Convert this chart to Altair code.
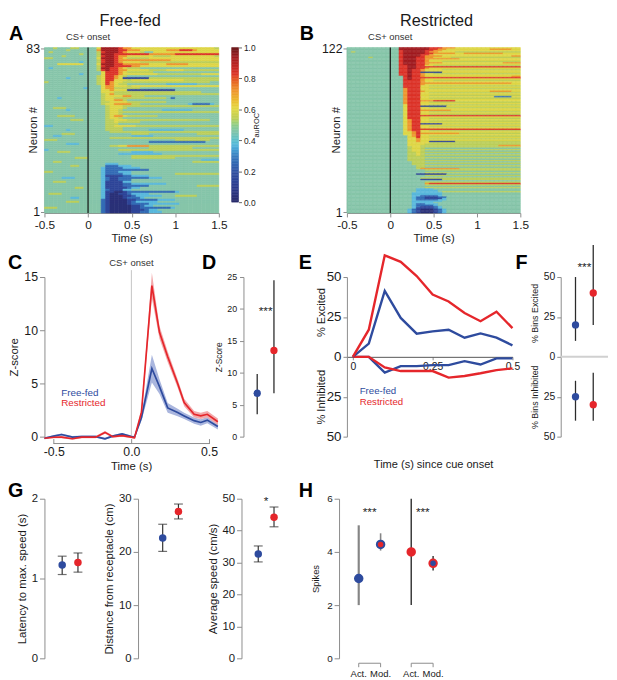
import altair as alt
import pandas as pd

FONT = "Liberation Sans"
BLUE = "#2E4B9E"
RED = "#E5262B"
AX = "#8C8C8C"
INK = "#1A1A1A"
DUMMY = pd.DataFrame({"z": [0]})

# ---------------- heatmaps (A: 83 neurons, B: 122 neurons) ----------------
# one character per 50 ms bin from -0.5 s to 1.5 s, first string = top row (highest neuron #)
N_A = 83
N_B = 122
BIN0 = -0.5
BINW = 0.05
LEVEL_CHARS = list("0123456789")
LEVEL_VALUES = [0.04, 0.15, 0.26, 0.37, 0.46, 0.54, 0.6, 0.72, 0.83, 0.94]

HEAT_STOPS = [0.0, 0.1, 0.2, 0.3, 0.37, 0.46, 0.54, 0.61, 0.72, 0.83, 0.94, 1.0]
HEAT_COLORS = ["#282A6A", "#2B3A8E", "#3152A3", "#3A7DBF", "#5AB8DD", "#86C5AA",
               "#BCCF5A", "#E4D743", "#EE962E", "#DC3328", "#A11C20", "#6B1A1C"]
CB_TICKS = [0, 0.2, 0.4, 0.6, 0.8, 1.0]

HEAT_A = [
    "4454445544" "4469999877" "6666666666" "6666666665",
    "4444454444" "4479999887" "7766666677" "7888766666",
    "4544444444" "4458999876" "6654466666" "6666666666",
    "4444444454" "4459998888" "8888777777" "8888888888",
    "4444544444" "4458998776" "6666655556" "6666666665",
    "5544444444" "4469998765" "5555666666" "6666666666",
    "4444444444" "4458998777" "7777777776" "6666666666",
    "4444444434" "4458998766" "6655555555" "5555555555",
    "4446666664" "4469998877" "7777666677" "7776666666",
    "4444444444" "4458998888" "7766666666" "6666666666",
    "4344444444" "4459988765" "5544444444" "4444444444",
    "4444444444" "4458988776" "6666555566" "6655555555",
    "4444444444" "4446888765" "5555544444" "4444444444",
    "4444444434" "4446888766" "6666665555" "5555556666",
    "4444444444" "4456887654" "4444444444" "4444444444",
    "4444434444" "4456887611" "1111555555" "5555555555",
    "4444444444" "4456886665" "6666666666" "6655555555",
    "5444444444" "4456876655" "5555555555" "5555555544",
    "4444444444" "4456876554" "4444444433" "3333344444",
    "4444444444" "4446776665" "6666666666" "6666666666",
    "4444444443" "4446775555" "5544444444" "4444444444",
    "4444444444" "4446676661" "1111111111" "4444444444",
    "4444444444" "4446665555" "5555555555" "5555554444",
    "4444444444" "4445675555" "5555555555" "5555555555",
    "4444444444" "4445666677" "5554444444" "4444444444",
    "4443444444" "4445665555" "5555555542" "4444444444",
    "4444444444" "4445667754" "4444444444" "4444444444",
    "4444444444" "4445566665" "5555555544" "4444444444",
    "4444444444" "4445667777" "5544444444" "4443222234",
    "4444444444" "4444566655" "5555555555" "5555555555",
    "4455544444" "4444566654" "4444444444" "4444444444",
    "4444434444" "4444566544" "4444444333" "3333444444",
    "4444444444" "4444566555" "5555555555" "5555555555",
    "4444444444" "4444566544" "4444444444" "4444444444",
    "4445555444" "4444567765" "5555554444" "4444444444",
    "4444444444" "4444566544" "4444444444" "4444444444",
    "4444445554" "4444556665" "5555555555" "5555555544",
    "4444444444" "4444556555" "5544444444" "4444444444",
    "4444444444" "4444555444" "4444444444" "4444444444",
    "3344444444" "4444556666" "6555555555" "5555555555",
    "4444444444" "4444555544" "4444444444" "4444444444",
    "4444434444" "4444555544" "4444333333" "3344444444",
    "4444444444" "4444455555" "5555555555" "5555555555",
    "4444555444" "4444444444" "5555444444" "4444455555",
    "4433444444" "4444444444" "3333344444" "4444444444",
    "4444444444" "4444455555" "5555555555" "5555555555",
    "5554444444" "4444444444" "4444444444" "5555555544",
    "4444444444" "4444444444" "4444222222" "2222222444",
    "4444433344" "4444444444" "4444444444" "4444444444",
    "4444444444" "4444455667" "7777555555" "5555555555",
    "4444444444" "4444444444" "4444555555" "5555444444",
    "3444444444" "4444444555" "5555555555" "5555555555",
    "4445554444" "4444444444" "3333344444" "4444444444",
    "4444444444" "4444444333" "3333333444" "4444444444",
    "4444444444" "4444444444" "5555555555" "5555555555",
    "4444444555" "4444444444" "5555555555" "4444444444",
    "4444444444" "4444444444" "4444444444" "4444443333",
    "4455444444" "4444444444" "4444444444" "4444555555",
    "4444444444" "4444333444" "4444444444" "4444444444",
    "4444445544" "4444222333" "4444444444" "4444444444",
    "4444444444" "4443222233" "3344444444" "4444444444",
    "4444444444" "4443222222" "2222444444" "4444444444",
    "5544444444" "4443222333" "4444444444" "4444444444",
    "4444444444" "4443222233" "4444444444" "5555555555",
    "4444444444" "4443111122" "3333444444" "4444444444",
    "4444333444" "4443211222" "2222333444" "4444444444",
    "4444444444" "4443211222" "4444444444" "4444444444",
    "4455544444" "4443111133" "4444444444" "4444444444",
    "4444444444" "4443111122" "3333333344" "4444444444",
    "4444444444" "4443111122" "2222444444" "4444455555",
    "4444444554" "4443111112" "3344444444" "4444444444",
    "4444444444" "4443211133" "4444444444" "4444444444",
    "4444444444" "4443110012" "2222222222" "3444444444",
    "4555444444" "4443100112" "3333444444" "4444444444",
    "4444444444" "4443100011" "2333333444" "5555544444",
    "4444443344" "4443100012" "2234444444" "4444444444",
    "4444444444" "4442100001" "1222223333" "4444444444",
    "4444455544" "4442100001" "2333334444" "4444444444",
    "4444444444" "4442100001" "2222333333" "3444444444",
    "4444444444" "4442100000" "1123344444" "4444444444",
    "5554444444" "4442100000" "1122222223" "4444444444",
    "4444444444" "4442100000" "1112334444" "4444444444",
    "4444444444" "4442100000" "1122333444" "4444444444",
]

HEAT_B = [
    "4444444444" "4499999998" "8877766666" "6666666666",
    "4444444444" "4499999998" "8776666666" "6667777766",
    "4444444444" "4489999988" "7766666666" "6666666666",
    "4544444444" "4489999987" "7666655555" "5555555555",
    "4444444444" "4489999988" "7777766777" "7777776666",
    "4444444444" "4489999887" "6666666666" "6666666666",
    "4444444444" "4489999877" "7766666666" "6666666677",
    "4444454444" "4489998877" "6666555555" "5555555555",
    "4444444444" "4489998877" "7777776666" "6666666666",
    "4444444444" "4489998876" "6666666666" "6666666666",
    "4444444444" "4489998876" "6655555555" "5555555555",
    "4444444444" "4489998877" "7766666666" "6666667777",
    "4444444444" "4489998876" "6666666666" "6666666666",
    "4444444444" "4488998866" "5555555555" "5555555555",
    "4444444444" "4488998888" "8888888888" "8888888888",
    "4444444444" "4488998876" "6666666666" "6666666666",
    "4444444444" "4488988766" "6655555555" "5555555555",
    "4444444444" "4488988766" "6666666666" "6666666666",
    "4444444444" "4488988111" "1166666666" "6666666666",
    "4444444444" "4488988766" "5555555555" "5555555555",
    "4444444444" "4488988766" "6666666666" "6666666666",
    "4444444444" "4448988766" "6666666666" "6666666677",
    "4444444444" "4448988888" "8888888888" "8888888888",
    "4444444444" "4448988766" "6666666666" "6666666666",
    "4444444444" "4448888766" "5555555555" "5555555555",
    "4444444444" "4448888766" "6666666666" "6666666666",
    "4444444444" "4448888777" "7777777777" "7777777766",
    "4444444444" "4448888766" "6666666666" "6666666666",
    "4444444444" "4448888665" "5555555555" "5555555555",
    "4444444444" "4448888666" "6666666666" "6666666666",
    "4444444444" "4447888665" "5555555555" "5555555555",
    "4444444444" "4447888666" "6666666666" "6666666666",
    "4444444444" "4447888766" "6666666666" "6667777766",
    "4444444444" "4447888665" "5555555555" "5555555555",
    "4444444444" "4447888666" "6666666666" "6666666666",
    "4444444444" "4447888665" "5555555555" "5555555555",
    "4444444444" "4447888666" "6666666666" "6666222266",
    "4444444444" "4447888665" "5555555555" "5555555555",
    "4444444444" "4447888666" "6666666666" "6666666666",
    "4444444444" "4447888777" "8888866666" "6666666666",
    "4444444444" "4447888665" "5555555555" "5555555555",
    "4444444444" "4447888666" "6666666666" "6666666666",
    "4444444444" "4446888665" "5555555555" "5555555555",
    "4444444444" "4446888111" "1116666666" "6666666666",
    "4444444444" "4446888665" "5555555555" "5555555555",
    "4444444444" "4446888666" "6666666666" "6666666666",
    "4444444444" "4446888777" "7777666666" "6666666666",
    "4444444444" "4446888665" "5555555555" "5555555555",
    "4444444444" "4446888666" "6666666666" "6666666666",
    "4444444444" "4446888665" "5555555555" "5555555555",
    "4444444444" "4446888888" "8888888888" "8888888888",
    "4444444444" "4446888666" "6666666666" "6666666666",
    "4444444444" "4446888665" "5555555555" "5555555555",
    "4444444444" "4446788666" "6666666666" "6666666666",
    "4444444444" "4446788665" "5555555555" "5555555555",
    "4444444444" "4446788666" "6666666666" "6666666666",
    "4444444444" "4446788111" "1155555555" "5555555555",
    "4444444444" "4446788666" "6666666666" "6666666666",
    "4444444444" "4446788665" "5555555555" "5555555555",
    "4444444444" "4446788666" "6666666666" "6666666666",
    "4444444444" "4446788888" "8888888888" "8888888888",
    "4444444444" "4446788665" "5555555555" "5555555555",
    "4444444444" "4446678666" "6666666666" "6666666666",
    "4444444444" "4446678777" "7777775555" "5555555555",
    "4444444444" "4446678666" "6666666666" "6666666666",
    "4444444444" "4444678665" "5555555555" "5555555555",
    "4444444444" "4444668666" "6666666666" "6666666666",
    "4444444444" "4444667665" "5555555555" "5555555555",
    "4444444444" "4444667666" "6666666666" "6666666666",
    "4444444444" "4444667661" "1111155555" "5555555555",
    "4444444444" "4444666665" "5555555555" "5555555555",
    "4444444444" "4444666655" "5555555555" "5555555555",
    "4444444444" "4444666555" "5555555555" "5555577777",
    "4444444444" "4444566555" "5555555555" "5555555555",
    "4444444444" "4444566544" "4444444444" "4444444444",
    "4444444444" "4444566555" "5555555555" "5555555555",
    "4444444444" "4444566544" "4444444444" "4444444444",
    "4444444444" "4444556555" "5555555555" "5555555555",
    "4444444444" "4444556544" "4444444444" "4444444444",
    "4444444444" "4444556555" "5555555555" "5555555555",
    "4444444444" "4444555544" "4444444444" "4444444444",
    "4444444444" "4444555555" "5555555555" "5555555555",
    "4444444444" "4444555544" "4444444444" "4444444444",
    "4444444444" "4444555555" "5555555555" "5555555555",
    "4444444444" "4444455544" "4444444444" "4444444444",
    "4444444444" "4444455555" "5555555555" "5555555555",
    "4444444444" "4444455544" "4444444444" "4444444444",
    "4444444444" "4444445555" "5555555555" "5555555555",
    "4444444444" "4444445544" "4444444444" "4444444444",
    "4444444444" "4444445777" "7777775555" "5555555555",
    "4444444444" "4444444455" "5555555555" "5555555555",
    "4444444444" "4444444444" "4444444444" "4444444444",
    "4444444444" "4444444455" "5555555555" "5555555555",
    "4444444444" "4444441111" "1114444444" "4444444444",
    "4444444444" "4444444455" "5555555555" "5555555555",
    "4444444444" "4444444444" "4444444444" "4444444444",
    "4444444444" "4444444555" "5555555555" "5555555555",
    "4444444444" "4444444111" "1155555555" "5555555555",
    "4444444444" "4444444444" "4444444444" "4444444444",
    "4444444444" "4444444455" "5555555555" "5555555555",
    "4444444444" "4444444478" "8888888888" "8888888888",
    "4444444444" "4444444455" "5555555555" "5555555555",
    "4444444444" "4444444444" "4444444444" "4444444444",
    "4444444444" "4444444455" "5555555555" "5555555555",
    "4444444444" "4444443333" "4444444444" "4444444444",
    "4444444444" "4444443333" "3444444444" "4444444444",
    "4444444444" "4444443333" "3455555555" "5555555555",
    "4444444444" "4444433333" "3344444444" "4444444444",
    "4444444444" "4444433333" "3344444444" "4444444444",
    "4444444444" "4444433222" "2344444444" "4444444444",
    "4444444444" "4444432211" "1224444444" "4444444444",
    "4444444444" "4444432211" "1134444444" "4444444444",
    "4444444444" "4444432222" "2334444444" "4444444444",
    "4444444444" "4444433333" "3344444444" "4444444444",
    "4444444444" "4444433333" "4444444444" "4444444444",
    "4444444444" "4444432233" "3444444444" "4444444444",
    "4444444444" "4444432222" "3444444444" "4444444444",
    "4444444444" "4444432111" "2344444444" "4444444444",
    "4444444444" "4444431111" "2344444444" "4444444444",
    "4444444444" "4444321000" "1234444444" "4444444444",
    "4444444444" "4444321000" "1234444444" "4444444444",
    "4444444444" "4444321000" "1234444444" "4444444444",
]

# ---------------- C: population Z-score ----------------
C_T = [-0.56, -0.50, -0.45, -0.38, -0.32, -0.23, -0.17, -0.12, -0.06, 0.00, 0.02,
       0.065, 0.132, 0.181, 0.234, 0.298, 0.34, 0.404, 0.447, 0.489, 0.557]
C_RESTR = [-0.15, -0.06, -0.05, -0.2, -0.05, -0.05, 0.4, 0.0, 0.1, -0.05, -0.1,
           2.3, 14.2, 9.8, 7.5, 5.0, 3.2, 2.1, 1.95, 2.1, 1.4]
C_RESTR_SEM = [0.1, 0.1, 0.1, 0.1, 0.1, 0.1, 0.12, 0.1, 0.1, 0.1, 0.1,
               0.3, 1.2, 0.6, 0.5, 0.4, 0.35, 0.3, 0.3, 0.3, 0.3]
C_FREE = [-0.15, 0.05, 0.2, -0.05, 0.0, 0.0, -0.2, 0.05, 0.25, 0.0, -0.05,
          1.8, 6.4, 4.7, 2.7, 2.26, 1.95, 1.5, 1.33, 1.55, 0.96]
C_FREE_SEM = [0.1, 0.1, 0.1, 0.1, 0.1, 0.1, 0.1, 0.1, 0.1, 0.1, 0.1,
              0.3, 1.3, 0.7, 0.45, 0.35, 0.3, 0.3, 0.3, 0.3, 0.3]

# ---------------- D ----------------
GROUP_X = [1, 2]
D_MED = [6.8, 13.5]
D_LO = [3.5, 6.8]
D_HI = [9.8, 24.5]

# ---------------- E ----------------
E_T = [0, 0.05, 0.1, 0.15, 0.2, 0.25, 0.3, 0.35, 0.4, 0.45, 0.5]
E_EXC_FREE = [0, 8.3, 41.3, 24.4, 14.5, 16, 17, 12, 14.7, 12, 7.2]
E_EXC_RESTR = [0, 17, 63.6, 59.5, 50.6, 39, 34.7, 27.5, 22.3, 28.3, 18]
E_INH_FREE = [0, 0, 9.9, 5.8, 5.8, 5.2, 5.2, 2.7, 4.8, 1, 1]
E_INH_RESTR = [0, 0, 6.6, 8.9, 8.9, 8.9, 13, 12, 10.3, 8.3, 7.2]

# ---------------- F ----------------
F_EXC_MED = [20, 40]
F_EXC_LO = [10, 20]
F_EXC_HI = [50, 70]
F_INH_MED = [25, 30]
F_INH_LO = [15, 10]
F_INH_HI = [40, 40]

# ---------------- G ----------------
G1_MED = [1.17, 1.20]
G1_LO = [1.05, 1.08]
G1_HI = [1.28, 1.32]
G2_MED = [22.6, 27.6]
G2_LO = [20.1, 26.2]
G2_HI = [25.2, 29.0]
G3_MED = [32.7, 44.2]
G3_LO = [30.2, 41.2]
G3_HI = [35.2, 47.4]

# ---------------- H ----------------
H_X = [1, 2, 3.4, 4.4]
H_MED = [3.0, 4.28, 4.0, 3.57]
H_LO = [2.0, 4.05, 2.0, 3.3]
H_HI = [5.0, 4.7, 6.0, 3.85]
H_FILL = [BLUE, RED, RED, BLUE]
H_RING = [BLUE, BLUE, RED, RED]
H_ERR_COLOR = ["#858585", "#858585", "#2B2B2B", "#2B2B2B"]
H_ERR_WIDTH = [2.2, 1.6, 1.4, 1.4]
H_LABELS = ["Act.", "Mod.", "Act.", "Mod."]


def txt(s, x, y, size=11.5, color=INK, align="center", baseline="alphabetic", angle=0, bold=False):
    return alt.Chart(DUMMY).mark_text(
        text=s, font=FONT, fontSize=size, color=color, align=align, baseline=baseline,
        angle=angle, fontWeight="bold" if bold else "normal").encode(x=x, y=y)


def letter(s, dx, dy):
    return txt(s, alt.value(dx), alt.value(dy), size=20, color="#000000", align="left", bold=True)


def spacer(w):
    return alt.Chart(DUMMY).mark_point(opacity=0).properties(width=w, height=20)


def heat_scale():
    return alt.Scale(type="linear", domain=HEAT_STOPS, range=HEAT_COLORS, clamp=True)


def heat_df(rows, n):
    lv = dict(zip(LEVEL_CHARS, LEVEL_VALUES))
    recs = []
    for i, row in enumerate(rows):
        k = n - i
        for j, ch in enumerate(row):
            t0 = BIN0 + j * BINW
            recs.append((round(t0, 3), round(t0 + BINW, 3), k - 0.5, k + 0.5, lv[ch]))
    return pd.DataFrame(recs, columns=["t0", "t1", "n0", "n1", "v"])


HEAT_H = 168


def heat_panel(rows, n, W, title, title_dx, let, let_dx):
    df = heat_df(rows, n)
    xs = alt.Scale(domain=[-0.5, 1.5], nice=False, zero=False)
    ys = alt.Scale(domain=[0.5, n + 0.5], nice=False, zero=False)
    cs = heat_scale()
    xv = [-0.5, 0, 0.5, 1, 1.5]
    rect = alt.Chart(df).mark_rect(strokeWidth=0.5).encode(
        x=alt.X("t0:Q", scale=xs, axis=alt.Axis(
            values=xv, tickCount=len(xv), labelExpr="toString(datum.value)", title="Time (s)",
            labelFontSize=12, titleFontSize=11.5, tickSize=4, labelPadding=3, titlePadding=2,
            labelOverlap=False)),
        x2="t1",
        y=alt.Y("n0:Q", scale=ys, axis=alt.Axis(values=[1, n], tickCount=2, title=None, labelFontSize=12.5,
                                               tickSize=4, labelPadding=1, labelOverlap=False)),
        y2="n1",
        color=alt.Color("v:Q", scale=cs, legend=None),
        stroke=alt.Stroke("v:Q", scale=cs, legend=None),
    )
    onset = alt.Chart(DUMMY).mark_rule(color="#111111", strokeWidth=1.2).encode(x=alt.datum(0))
    return alt.layer(
        rect, onset,
        txt("CS+ onset", alt.datum(0), alt.value(-8), size=9.6, color="#333333"),
        txt(title, alt.value(title_dx), alt.value(-22), size=16.5),
        txt("Neuron #", alt.value(-10.5), alt.value(HEAT_H / 2), angle=270, baseline="middle"),
        letter(let, let_dx, -8),
    ).properties(width=W, height=HEAT_H)


def colorbar_panel():
    steps = 100
    cb = pd.DataFrame({"lo": [i / steps for i in range(steps)],
                       "hi": [(i + 1) / steps for i in range(steps)]})
    cb["v"] = (cb.lo + cb.hi) / 2
    cs = heat_scale()
    return alt.Chart(cb).mark_rect(strokeWidth=0.5).encode(
        y=alt.Y("lo:Q", scale=alt.Scale(domain=[0, 1], nice=False, zero=False),
                axis=alt.Axis(orient="right", values=CB_TICKS, tickCount=len(CB_TICKS), format=".1f",
                              title="auROC", titleAngle=270, titleFontSize=7.5, labelFontSize=8.5,
                              tickSize=3, labelPadding=2, titlePadding=5, domain=False,
                              tickColor="#666666", labelOverlap=False)),
        y2="hi",
        color=alt.Color("v:Q", scale=cs, legend=None),
        stroke=alt.Stroke("v:Q", scale=cs, legend=None),
    ).properties(width=7, height=157)


PH = 162  # plot height rows 2 and 3


def c_panel():
    d = pd.DataFrame({"t": C_T, "fr": C_RESTR, "frs": C_RESTR_SEM, "ff": C_FREE, "ffs": C_FREE_SEM})
    d["r_lo"] = d.fr - d.frs
    d["r_hi"] = d.fr + d.frs
    d["b_lo"] = d.ff - d.ffs
    d["b_hi"] = d.ff + d.ffs
    xs = alt.Scale(domain=[-0.56, 0.557], nice=False, zero=False)
    ys = alt.Scale(domain=[0, 15], nice=False, zero=False)
    ax = alt.Axis(values=[-0.5, 0, 0.5], tickCount=3,
                  labelExpr="datum.value < 0 ? '-' + format(-datum.value, '.1f') : format(datum.value, '.1f')",
                  offset=2, tickSize=5, domain=False, labelPadding=2, title="Time (s)", titlePadding=3,
                  labelFontSize=12.5, titleFontSize=11.5, labelOverlap=False)
    ay = alt.Axis(values=[0, 5, 10, 15], tickCount=4, title="Z-score", labelFontSize=12.5,
                  titleFontSize=11.5, tickSize=5, labelPadding=2, titlePadding=4, labelOverlap=False)
    X = alt.X("t:Q", scale=xs, axis=ax)

    def Y(f):
        return alt.Y(f, type="quantitative", scale=ys, axis=ay)

    base = alt.Chart(d)
    return alt.layer(
        base.mark_area(color="#AAB6DE").encode(x=X, y=Y("b_lo"), y2="b_hi"),
        base.mark_area(color="#F2A9AB").encode(x=X, y=Y("r_lo"), y2="r_hi"),
        alt.Chart(DUMMY).mark_rule(color="#C4C4C4", strokeWidth=1).encode(
            x=alt.datum(0), y=alt.value(-7), y2=alt.value(PH)),
        base.mark_line(color=BLUE, strokeWidth=1.7).encode(x=X, y=Y("ff")),
        base.mark_line(color=RED, strokeWidth=1.7).encode(x=X, y=Y("fr")),
        alt.Chart(DUMMY).mark_rule(color=AX, strokeWidth=1).encode(
            x=alt.datum(-0.5), x2=alt.datum(0.5), y=alt.value(PH + 7)),
        txt("CS+ onset", alt.datum(0), alt.value(-11), size=9.6, color="#333333"),
        txt("Free-fed", alt.value(17), alt.value(121), size=10, color=BLUE, align="left"),
        txt("Restricted", alt.value(17), alt.value(131), size=10, color=RED, align="left"),
        # blank text that only reserves room below the row
        txt(" ", alt.value(30), alt.value(PH + 44), size=10),
        letter("C", -37, -8),
    ).properties(width=176, height=PH)


def d_panel():
    d = pd.DataFrame({"g": GROUP_X, "m": D_MED, "lo": D_LO, "hi": D_HI, "c": [BLUE, RED]})
    xs = alt.Scale(domain=[0.18, 2.71], nice=False, zero=False)
    ys = alt.Scale(domain=[0, 25], nice=False, zero=False)
    yv = [0, 5, 10, 15, 20, 25]
    ay = alt.Axis(values=yv, tickCount=len(yv), title="Z-Score", labelFontSize=9, titleFontSize=8.5,
                  tickSize=4, labelPadding=3, titlePadding=3, labelOverlap=False)
    X = alt.X("g:Q", scale=xs, axis=None)
    base = alt.Chart(d)
    return alt.layer(
        base.mark_rule(color="#2B2B2B", strokeWidth=1.3).encode(
            x=X, y=alt.Y("lo:Q", scale=ys, axis=ay), y2="hi"),
        base.mark_circle(size=55, opacity=1).encode(
            x=X, y=alt.Y("m:Q", scale=ys, axis=ay), color=alt.Color("c:N", scale=None)),
        txt("***", alt.datum(1.5), alt.datum(19), size=12),
        letter("D", -42, -8),
    ).properties(width=43, height=PH)


def e_panel():
    d = pd.DataFrame({"t": E_T, "fe": E_EXC_FREE, "re": E_EXC_RESTR,
                      "fi": [-v for v in E_INH_FREE], "ri": [-v for v in E_INH_RESTR]})
    xs = alt.Scale(domain=[-0.0185, 0.5], nice=False, zero=False)
    ys = alt.Scale(domain=[-50, 50], nice=False, zero=False)
    ax = alt.Axis(values=[0, 0.25, 0.5], tickCount=3, labelExpr="toString(datum.value)", offset=-PH / 2,
                  title=None, tickSize=3, labelPadding=2, labelFontSize=10.5, domainColor="#555555",
                  labelOverlap=False)
    yv = [-50, -25, 0, 25, 50]
    ay = alt.Axis(values=yv, tickCount=len(yv), labelExpr="toString(abs(datum.value))", title=None,
                  tickSize=4, labelPadding=2, labelFontSize=13.5, labelOverlap=False)
    X = alt.X("t:Q", scale=xs, axis=ax)
    base = alt.Chart(d)
    lines = [base.mark_line(color=c, strokeWidth=2.4).encode(x=X, y=alt.Y(f + ":Q", scale=ys, axis=ay))
             for f, c in [("fi", BLUE), ("ri", RED), ("fe", BLUE), ("re", RED)]]
    return alt.layer(
        *lines,
        txt("% Excited", alt.value(-25), alt.value(36), size=11.2, angle=270, baseline="middle"),
        txt("% Inhibited", alt.value(-25), alt.value(122), size=11.2, angle=270, baseline="middle"),
        txt("Free-fed", alt.value(13), alt.value(119), size=9.8, color=BLUE, align="left"),
        txt("Restricted", alt.value(13), alt.value(130), size=9.8, color=RED, align="left"),
        txt("Time (s) since cue onset", alt.value(88), alt.value(194), size=11.2),
        letter("E", -49, -8),
    ).properties(width=168, height=PH)


def f_panel():
    d = pd.DataFrame({
        "g": GROUP_X + GROUP_X,
        "m": F_EXC_MED + [-v for v in F_INH_MED],
        "lo": F_EXC_LO + [-v for v in F_INH_LO],
        "hi": F_EXC_HI + [-v for v in F_INH_HI],
        "c": [BLUE, RED, BLUE, RED]})
    xs = alt.Scale(domain=[0.167, 2.833], nice=False, zero=False)
    ys = alt.Scale(domain=[-50, 50], nice=False, zero=False)
    yv = [-50, -25, 0, 25, 50]
    ay = alt.Axis(values=yv, tickCount=len(yv), labelExpr="toString(abs(datum.value))", title=None,
                  tickSize=4, labelPadding=2, labelFontSize=10.5, labelOverlap=False)
    X = alt.X("g:Q", scale=xs, axis=None)
    base = alt.Chart(d)
    return alt.layer(
        alt.Chart(DUMMY).mark_rule(color="#D0D0D0", strokeWidth=2).encode(y=alt.datum(0)),
        base.mark_rule(color="#2B2B2B", strokeWidth=1.3).encode(
            x=X, y=alt.Y("lo:Q", scale=ys, axis=ay), y2="hi"),
        base.mark_circle(size=55, opacity=1).encode(
            x=X, y=alt.Y("m:Q", scale=ys, axis=ay), color=alt.Color("c:N", scale=None)),
        txt("***", alt.datum(1.5), alt.datum(54), size=12),
        txt("% Bins Excited", alt.value(-26), alt.value(37), size=9, angle=270, baseline="middle"),
        txt("% Bins Inhibited", alt.value(-26), alt.value(122), size=9, angle=270, baseline="middle"),
        letter("F", -46, -8),
    ).properties(width=48, height=PH)


def g_panel(med, lo, hi, xdom, ydom, yvals, title, extra):
    d = pd.DataFrame({"g": GROUP_X, "m": med, "lo": lo, "hi": hi, "c": [BLUE, RED]})
    xs = alt.Scale(domain=xdom, nice=False, zero=False)
    ys = alt.Scale(domain=ydom, nice=False, zero=False)
    ay = alt.Axis(values=yvals, tickCount=len(yvals), title=title, labelFontSize=11.5, titleFontSize=11.5,
                  labelExpr="toString(datum.value)", tickSize=5, labelPadding=2, titlePadding=4,
                  labelOverlap=False)
    X = alt.X("g:Q", scale=xs, axis=None)
    base = alt.Chart(d)
    layers = [
        base.mark_rule(color="#333333", strokeWidth=1.2).encode(
            x=X, y=alt.Y("lo:Q", scale=ys, axis=ay), y2="hi"),
        base.mark_tick(orient="horizontal", size=9, thickness=1.2, color="#333333").encode(
            x=X, y=alt.Y("lo:Q", scale=ys, axis=ay)),
        base.mark_tick(orient="horizontal", size=9, thickness=1.2, color="#333333").encode(
            x=X, y=alt.Y("hi:Q", scale=ys, axis=ay)),
        base.mark_circle(size=58, opacity=1).encode(
            x=X, y=alt.Y("m:Q", scale=ys, axis=ay), color=alt.Color("c:N", scale=None)),
    ] + extra
    return alt.layer(*layers).properties(width=52, height=PH)


def h_panel():
    d = pd.DataFrame({"g": H_X, "m": H_MED, "lo": H_LO, "hi": H_HI, "fill": H_FILL,
                      "ring": H_RING, "ec": H_ERR_COLOR, "ew": H_ERR_WIDTH})
    xs = alt.Scale(domain=[0.1, 5.1], nice=False, zero=False)
    ys = alt.Scale(domain=[0, 6], nice=False, zero=False)
    ay = alt.Axis(values=[0, 2, 4, 6], tickCount=4, title="Spikes", labelFontSize=10, titleFontSize=9.5,
                  tickSize=5, labelPadding=2, titlePadding=6, labelOverlap=False)
    X = alt.X("g:Q", scale=xs, axis=None)
    base = alt.Chart(d)
    layers = [
        base.mark_rule().encode(x=X, y=alt.Y("lo:Q", scale=ys, axis=ay), y2="hi",
                                color=alt.Color("ec:N", scale=None),
                                strokeWidth=alt.StrokeWidth("ew:Q", scale=None)),
        base.mark_point(filled=True, size=58, strokeWidth=2, opacity=1).encode(
            x=X, y=alt.Y("m:Q", scale=ys, axis=ay),
            fill=alt.Fill("fill:N", scale=None), stroke=alt.Stroke("ring:N", scale=None)),
        txt("***", alt.datum((H_X[0] + H_X[1]) / 2), alt.datum(5.35), size=12),
        txt("***", alt.datum((H_X[2] + H_X[3]) / 2 + 0.03), alt.datum(5.35), size=12),
        letter("H", -41, -2),
    ]
    for a, b in [(H_X[0], H_X[1]), (H_X[2], H_X[3])]:
        layers.append(alt.Chart(DUMMY).mark_rule(color=AX).encode(
            x=alt.datum(a), x2=alt.datum(b), y=alt.value(PH + 5)))
        for e in (a, b):
            layers.append(alt.Chart(DUMMY).mark_rule(color=AX).encode(
                x=alt.datum(e), y=alt.value(PH + 5), y2=alt.value(PH + 9)))
    for xv, lab in zip(H_X, H_LABELS):
        layers.append(txt(lab, alt.datum(xv), alt.value(PH + 19), size=9.6))
    return alt.layer(*layers).properties(width=111, height=PH)


A = heat_panel(HEAT_A, N_A, 177, "Free-fed", 87, "A", -36)
B = heat_panel(HEAT_B, N_B, 176, "Restricted", 91, "B", -48)
row1 = alt.hconcat(A, spacer(13), colorbar_panel(), spacer(110), B, spacing=0,
                   bounds="flush").resolve_scale(color="independent", stroke="independent")

row2 = alt.hconcat(c_panel(), spacer(26), d_panel(), spacer(62), e_panel(), spacer(49), f_panel(),
                   spacing=0, bounds="flush")

G1 = g_panel(G1_MED, G1_LO, G1_HI, [-0.125, 3.125], [0, 2], [0, 1, 2], "Latency to max. speed (s)",
             [letter("G", -37, -2)])
G2 = g_panel(G2_MED, G2_LO, G2_HI, [-0.5625, 2.6875], [0, 30], [0, 10, 20, 30],
             "Distance from receptacle (cm)", [])
G3 = g_panel(G3_MED, G3_LO, G3_HI, [-0.0625, 3.1875], [0, 50], [0, 10, 20, 30, 40, 50],
             "Average speed (cm/s)", [txt("*", alt.datum(1.5), alt.datum(48), size=12)])
row3 = alt.hconcat(G1, spacer(43), G2, spacer(53), G3, spacer(47), h_panel(),
                   spacing=0, bounds="flush")

chart = alt.vconcat(row1, row2, row3, spacing=-1).properties(
    padding=0, background="white"
).configure(font=FONT).configure_view(stroke=None).configure_axis(
    grid=False, domainColor=AX, tickColor=AX, labelColor=INK, titleColor=INK,
    labelFont=FONT, titleFont=FONT, titleFontWeight="normal", labelFlush=False,
    labelOverlap=False, domainWidth=1, tickWidth=1)

chart.save("out.html", embed_options={"renderer": "svg", "actions": False})
